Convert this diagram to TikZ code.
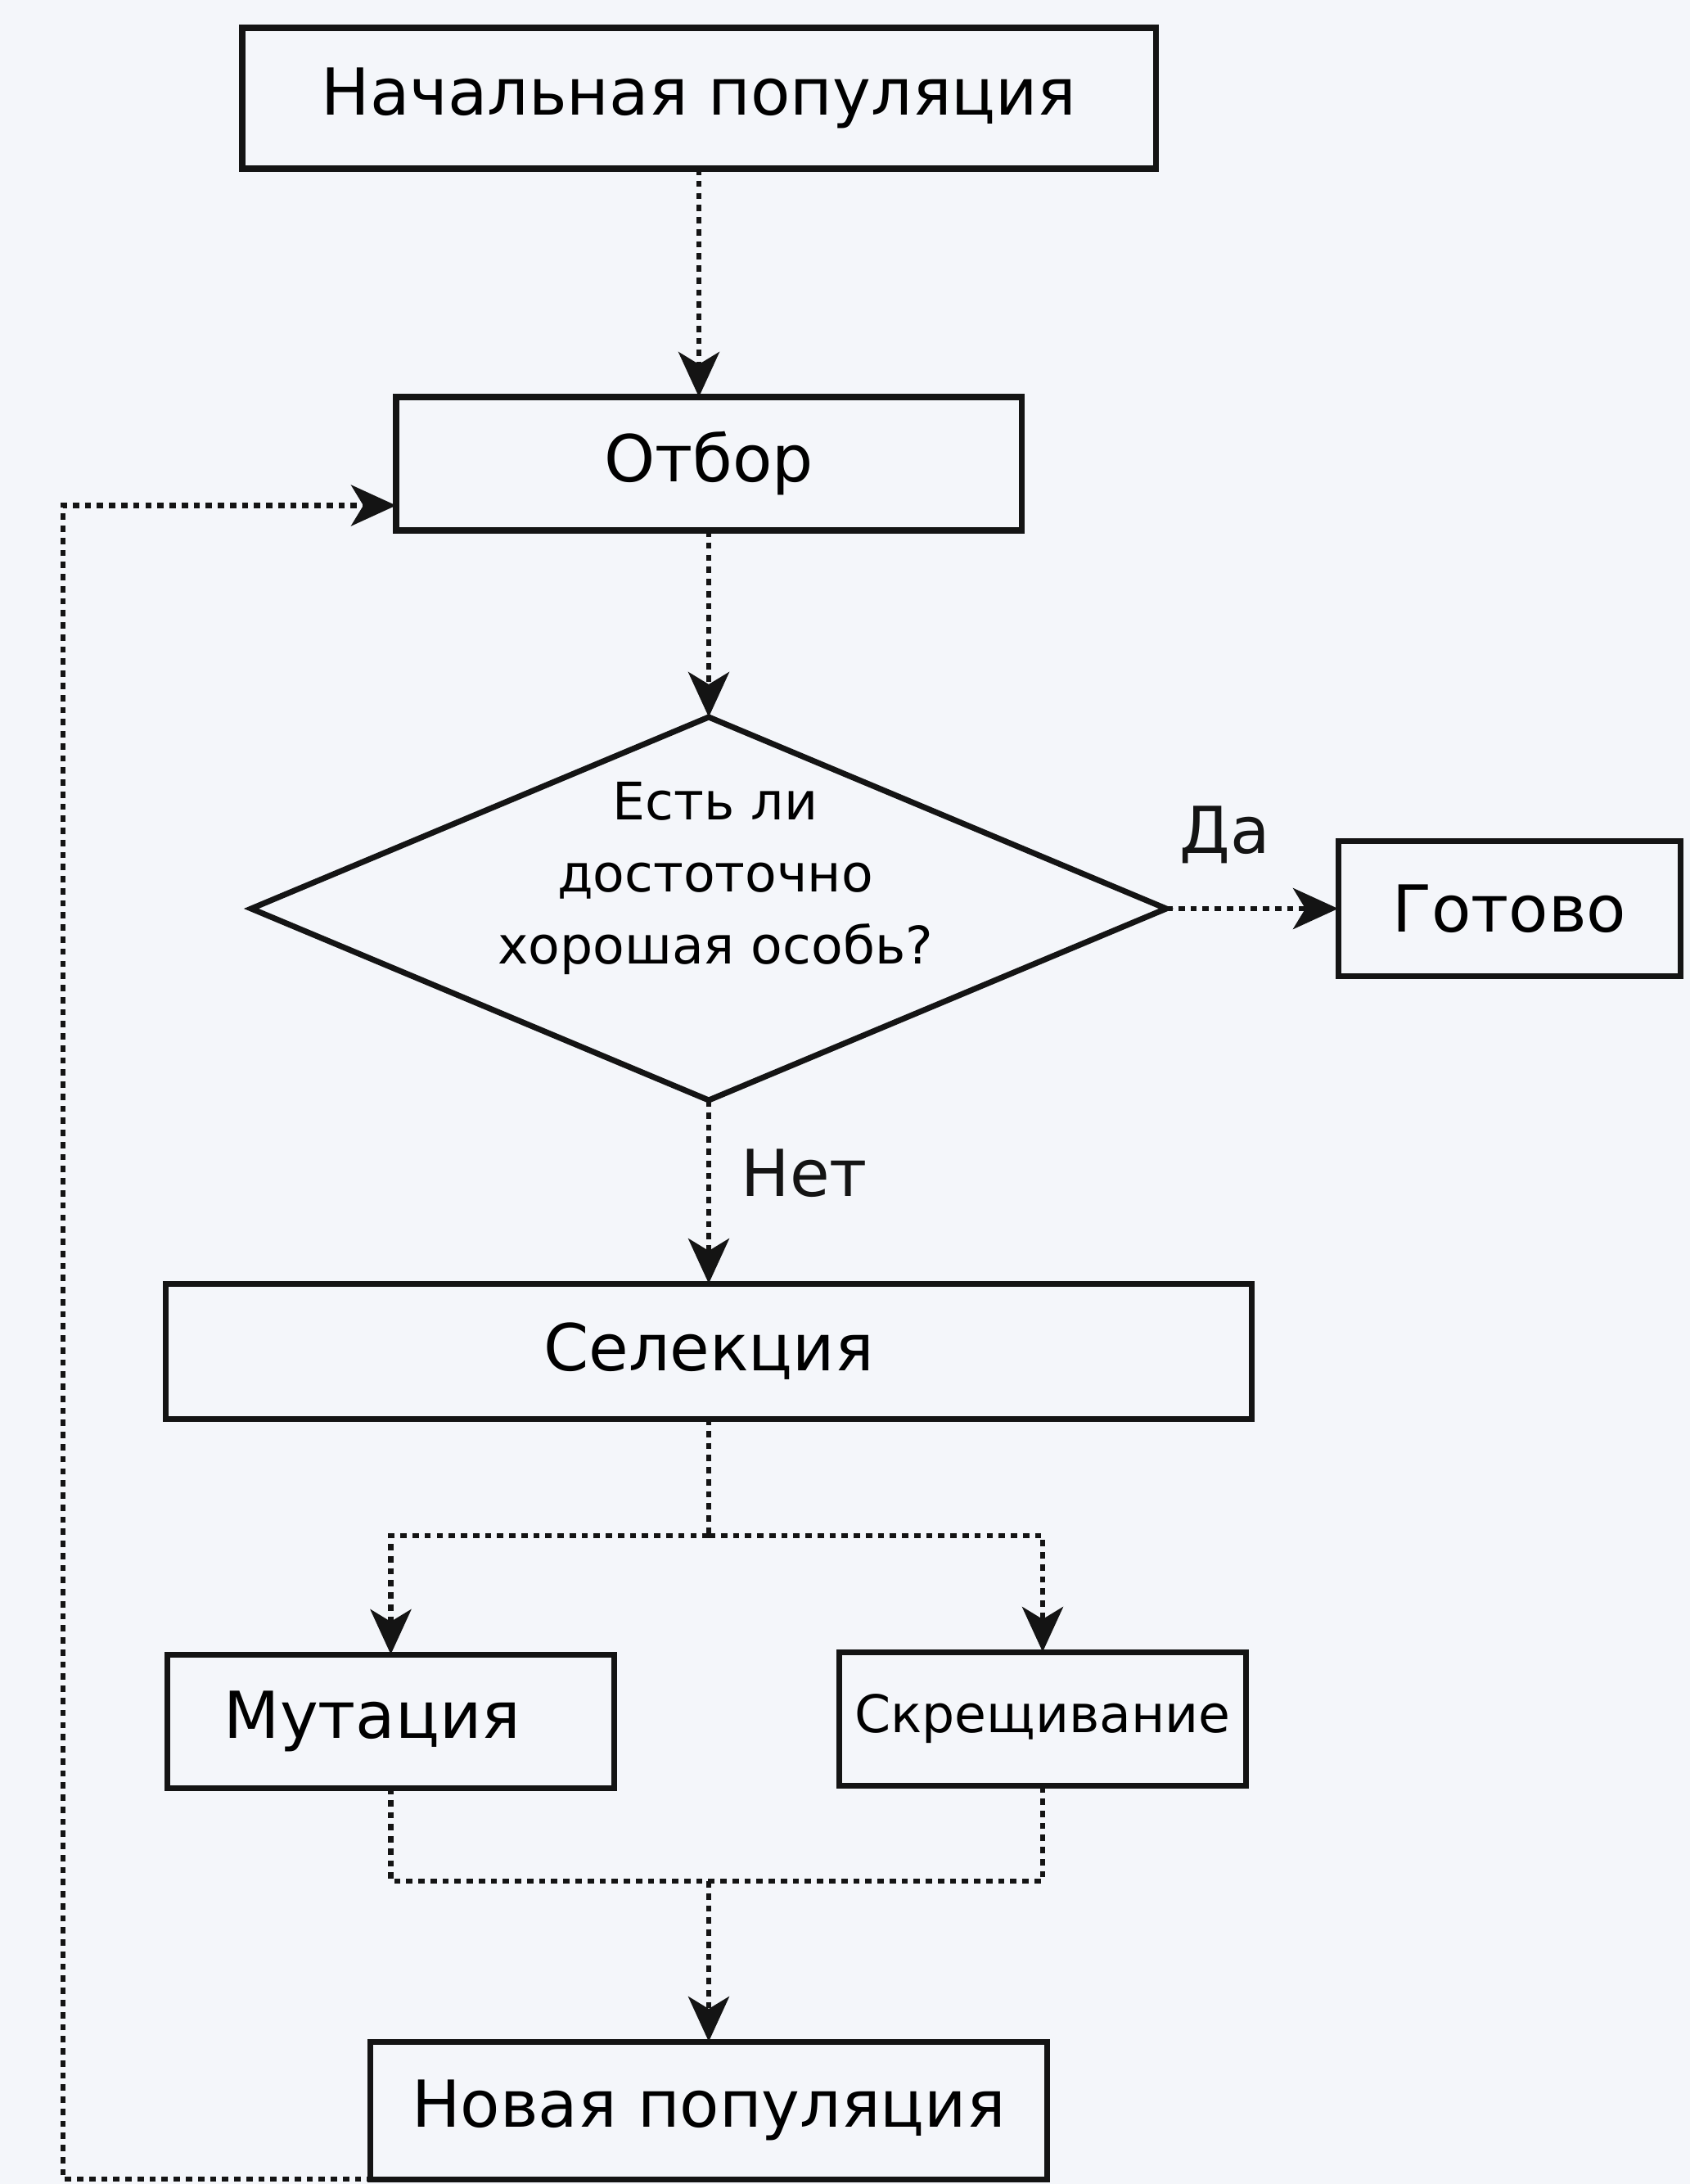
\documentclass[tikz,border=0pt]{standalone}
\usepackage{fontspec}
\setmainfont{DejaVu Sans}
\usepackage{tikz}
\usetikzlibrary{shapes.geometric, arrows.meta, positioning, calc}
\definecolor{pagebg}{RGB}{244,246,250}
\definecolor{inkblack}{RGB}{20,20,20}
\tikzset{
  block/.style={rectangle, draw=inkblack, line width=2pt, inner sep=0pt, outer sep=0pt,
    minimum height=1.65cm, font=\fontsize{22.5}{27}\selectfont},
  decision/.style={diamond, draw=inkblack, line width=2pt, inner sep=0pt, outer sep=0pt,
    minimum width=11.18cm, minimum height=4.68cm},
  qtext/.style={font=\fontsize{18}{25}\selectfont, align=center},
  link/.style={line width=1.8pt, dash pattern=on 2.2pt off 2pt, color=inkblack},
  flow/.style={link, -{Stealth[length=0.55cm, width=0.5cm, inset=0.15cm]}},
  edgelabel/.style={font=\fontsize{22.5}{27}\selectfont},
}
\begin{document}
\begin{tikzpicture}
  \useasboundingbox (0,0) rectangle (20.65,-26.68);
  \fill[pagebg] (0,0) rectangle (20.65,-26.68);
  \node[block, minimum width=11.16cm, minimum height=1.72cm] (init) at (8.54,-1.20) {Начальная популяция};
  \node[block, minimum width=7.64cm, minimum height=1.63cm, below=2.79cm of init, xshift=.12cm] (sel) {Отбор};
  \node[decision, below=2.28cm of sel,
        label={[qtext, xshift=.08cm, yshift=.37cm]center:{Есть ли\\достоточно\\хорошая особь?}}] (cond) {};
  \node[block, minimum width=4.18cm, right=2.1cm of cond] (done) {Готово};
  \node[block, minimum width=13.27cm, below=2.24cm of cond] (crs) {Селекция};
  \node[block, minimum width=5.46cm, minimum height=1.63cm,
        below right=2.88cm and 0.02cm of crs.south west] (mut) {Мутация\hspace*{0.45cm}};
  \node[block, minimum width=4.97cm, minimum height=1.63cm, font=\fontsize{18}{22}\selectfont,
        below left=2.85cm and 0.07cm of crs.south east] (cross) {Скрещивание};
  \coordinate[below=1.43cm of crs] (split);
  \coordinate (merge) at ($(mut.south -| crs.south)+(0,-1.14)$);
  \node[block, minimum width=8.27cm, minimum height=1.68cm, below=1.96cm of merge] (newpop) {Новая популяция};
  \coordinate (loopx) at (0.77,-15);

  \draw[flow] (init) -- (init |- sel.north);
  \draw[flow] (sel) -- (cond);
  \draw[flow] (cond) -- node[edgelabel, pos=.34, above=.4cm] {Да} (done);
  \draw[flow] (cond) -- node[edgelabel, pos=.4, right=.25cm] {Нет} (crs);
  \draw[link] (crs) -- (split);
  \draw[flow] (split) -| (mut);
  \draw[flow] (split) -| (cross);
  \draw[link] (mut) |- (merge) -| (cross);
  \draw[flow] (merge) -- (newpop);
  \draw[flow] ([xshift=1.07cm]newpop.south west) -| (loopx) |- ([yshift=-.51cm]sel.west);
\end{tikzpicture}
\end{document}
